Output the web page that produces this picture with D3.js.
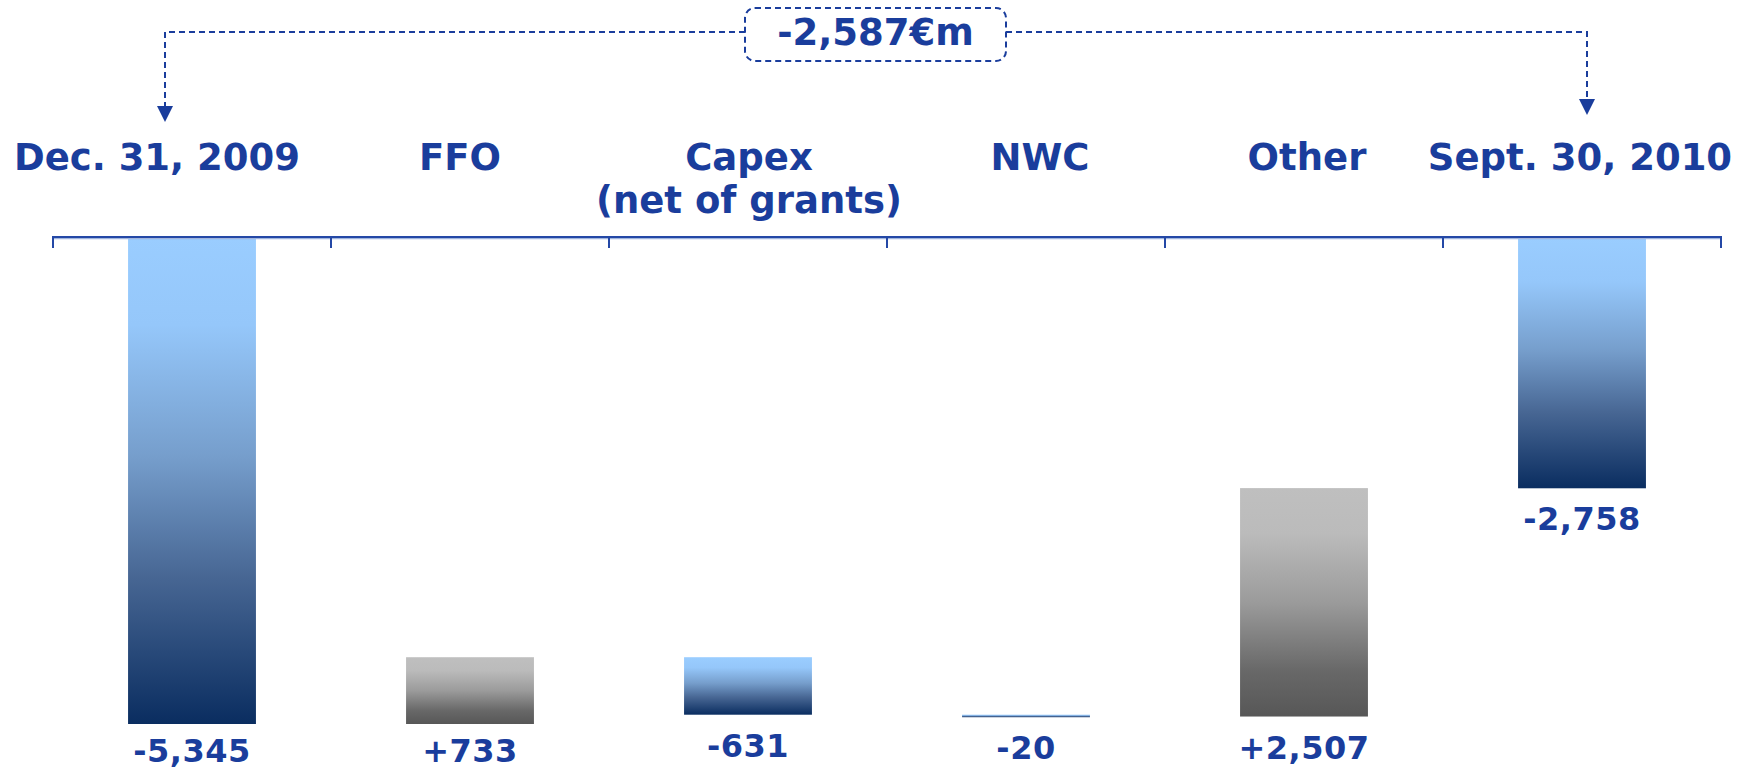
<!DOCTYPE html>
<html>
<head>
<meta charset="utf-8">
<script src="https://cdn.jsdelivr.net/npm/d3@7"></script>
<style>
  html, body { margin: 0; padding: 0; background: #fff; }
  svg { display: block; }
  text { font-family: "DejaVu Sans", Verdana, sans-serif; font-weight: bold; fill: #1a3d9c; }
</style>
</head>
<body>
<svg id="chart" width="1746" height="772"></svg>
<script>
// Net debt bridge, €m
const categories = ["Dec. 31, 2009", "FFO", "Capex\n(net of grants)", "NWC", "Other", "Sept. 30, 2010"];
const kinds      = ["total", "delta", "delta", "delta", "delta", "total"];
const values     = [-5345, 733, -631, -20, 2507, -2758];
const valueLabels = ["-5,345", "+733", "-631", "-20", "+2,507", "-2,758"];
const changeLabel = "-2,587€m";

// horizontal nudge of each category caption from its band centre
const captionNudge = [-35, -10, 1, 14, 3, -2];

const W = 1746, H = 772;
const axisY = 237;
const svg = d3.select("#chart");

// waterfall spans
let running = 0;
const bars = values.map((v, i) => {
  let y0, y1;
  if (kinds[i] === "total") { y0 = 0; y1 = v; running = v; }
  else { y0 = running; y1 = running + v; running = y1; }
  return { cat: categories[i], kind: kinds[i], value: v, label: valueLabels[i],
           lo: Math.min(y0, y1), hi: Math.max(y0, y1), gain: kinds[i] === "delta" && v > 0 };
});

const x = d3.scaleBand().domain(categories).range([53, 1721])
  .paddingInner(0.54).paddingOuter(0.27);
const y = d3.scaleLinear().domain([d3.min(bars, d => d.lo), 0]).range([724, axisY]);

// gradients
const defs = svg.append("defs");
const blue = defs.append("linearGradient").attr("id", "gBlue")
  .attr("x1", 0).attr("y1", 0).attr("x2", 0).attr("y2", 1);
[[0, "#9acdff"], [0.18, "#95c7fa"], [0.45, "#769ecc"], [0.7, "#476693"], [1, "#0a2d60"]]
  .forEach(([o, c]) => blue.append("stop").attr("offset", o).attr("stop-color", c));
const grey = defs.append("linearGradient").attr("id", "gGrey")
  .attr("x1", 0).attr("y1", 0).attr("x2", 0).attr("y2", 1);
[[0, "#bfbfbf"], [0.2, "#bbbbbb"], [0.5, "#9b9b9b"], [0.8, "#686868"], [1, "#575757"]]
  .forEach(([o, c]) => grey.append("stop").attr("offset", o).attr("stop-color", c));

// bars
svg.append("g").selectAll("rect").data(bars).join("rect")
  .attr("x", d => x(d.cat))
  .attr("width", x.bandwidth())
  .attr("y", d => y(d.hi))
  .attr("height", d => Math.max(2.5, y(d.lo) - y(d.hi)))
  .attr("fill", d => d.gain ? "url(#gGrey)" : "url(#gBlue)");

// value labels under each bar
svg.append("g").selectAll("text").data(bars).join("text")
  .attr("x", d => x(d.cat) + x.bandwidth() / 2)
  .attr("y", d => Math.min(y(d.lo) + 42, 762))
  .attr("text-anchor", "middle")
  .attr("font-size", 32)
  .style("letter-spacing", "0.5px")
  .text(d => d.label);

// category axis along the zero line
const step = x.step();
const first = x(categories[0]) - (step - x.bandwidth()) / 2;
const tickXs = d3.range(categories.length + 1).map(i => first + i * step);
const axis = svg.append("g");
axis.append("line").attr("x1", tickXs[0]).attr("x2", tickXs[tickXs.length - 1])
  .attr("y1", axisY + 1.5).attr("y2", axisY + 1.5)
  .attr("stroke", "#9fb4de").attr("stroke-width", 1.5);
axis.append("line").attr("x1", tickXs[0] - 1).attr("x2", tickXs[tickXs.length - 1] + 1)
  .attr("y1", axisY).attr("y2", axisY)
  .attr("stroke", "#2448a6").attr("stroke-width", 2);
axis.selectAll("line.tick").data(tickXs).join("line").attr("class", "tick")
  .attr("x1", d => d).attr("x2", d => d)
  .attr("y1", axisY).attr("y2", axisY + 11)
  .attr("stroke", "#2448a6").attr("stroke-width", 2);

// category captions
const capX = i => x(categories[i]) + x.bandwidth() / 2 + captionNudge[i];
const caps = svg.append("g").selectAll("text").data(categories).join("text")
  .attr("x", (d, i) => capX(i))
  .attr("y", 170)
  .attr("text-anchor", "middle")
  .attr("font-size", 37);
caps.each(function(d, i) {
  d.split("\n").forEach((line, k) => {
    d3.select(this).append("tspan").attr("x", capX(i)).attr("dy", k === 0 ? 0 : 43).text(line);
  });
});

// overall change bracket
const ink = "#1a3d9c";
const boxL = 745, boxR = 1006, boxT = 8, boxB = 61, lineY = 32;
const leftX = capX(0) + 8, rightX = capX(categories.length - 1) + 7;
const dash = "6,4";
const bracket = svg.append("g");
bracket.append("rect").attr("x", boxL).attr("y", boxT)
  .attr("width", boxR - boxL).attr("height", boxB - boxT).attr("rx", 10)
  .attr("fill", "none").attr("stroke", ink).attr("stroke-width", 2).attr("stroke-dasharray", dash);
bracket.append("path")
  .attr("d", `M${boxL},${lineY}H${leftX}V107`)
  .attr("fill", "none").attr("stroke", ink).attr("stroke-width", 2).attr("stroke-dasharray", dash);
bracket.append("path")
  .attr("d", `M${boxR},${lineY}H${rightX}V100`)
  .attr("fill", "none").attr("stroke", ink).attr("stroke-width", 2).attr("stroke-dasharray", dash);
bracket.append("path").attr("d", `M${leftX - 8},106L${leftX + 8},106L${leftX},122Z`).attr("fill", ink);
bracket.append("path").attr("d", `M${rightX - 8},99L${rightX + 8},99L${rightX},115Z`).attr("fill", ink);
bracket.append("text").attr("x", (boxL + boxR) / 2).attr("y", 45)
  .attr("text-anchor", "middle").attr("font-size", 37).text(changeLabel);
</script>
</body>
</html>
